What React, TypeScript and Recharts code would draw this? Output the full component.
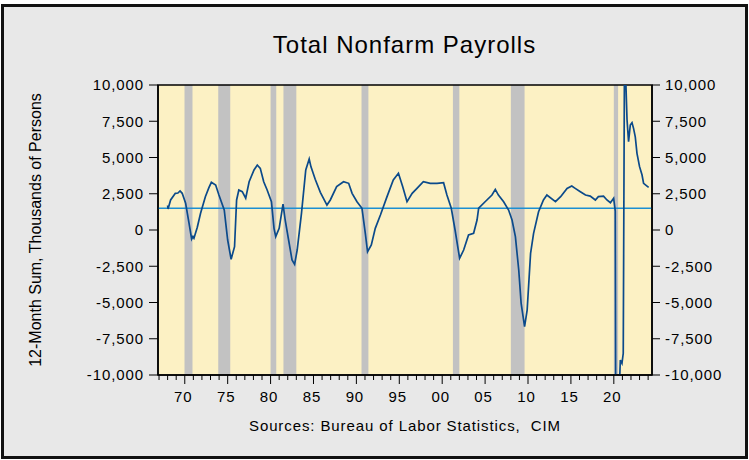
import React from 'react';
import { ComposedChart, Line, XAxis, YAxis, ReferenceArea, ReferenceLine } from 'recharts';

const years = [
  1968.0, 1968.05, 1968.35, 1968.9, 1969.2, 1969.45, 1969.7, 1970.1, 1970.5, 1970.8, 1970.95, 1971.07,
  1971.46, 1971.84, 1972.4, 1972.8, 1973.1, 1973.6, 1973.98, 1974.6, 1975.0, 1975.4, 1975.8, 1976.04,
  1976.3, 1976.7, 1977.1, 1977.5, 1978.07, 1978.45, 1978.8, 1979.2, 1979.6, 1980.1, 1980.4, 1980.6,
  1981.0, 1981.45, 1981.7, 1982.1, 1982.5, 1982.8, 1983.1, 1983.6, 1984.1, 1984.5, 1984.7, 1985.2,
  1985.8, 1986.57, 1986.96, 1987.7, 1988.5, 1989.1, 1989.5, 1990.07, 1990.65, 1991.04, 1991.3, 1991.74,
  1992.2, 1992.8, 1993.57, 1994.3, 1994.9, 1995.4, 1995.9, 1996.5, 1997.06, 1997.8, 1998.6, 1999.4,
  2000.16, 2000.55, 2001.06, 2001.5, 2002.03, 2002.5, 2003.07, 2003.66, 2004.06, 2004.25, 2005.0, 2005.8,
  2006.19, 2006.55, 2007.16, 2007.74, 2008.14, 2008.53, 2008.92, 2009.2, 2009.6, 2009.9, 2010.3, 2010.65,
  2011.23, 2011.8, 2012.2, 2013.2, 2013.8, 2014.55, 2015.1, 2015.5, 2016.1, 2016.7, 2017.25, 2017.85,
  2018.2, 2018.8, 2019.2, 2019.6, 2019.98, 2020.17, 2020.25, 2020.45, 2020.65, 2020.76, 2020.95, 2021.1,
  2021.25, 2021.54, 2021.72, 2021.92, 2022.12, 2022.3, 2022.5, 2022.7, 2023.0, 2023.29, 2023.47, 2023.87,
  2024.06,
];

const payrollChange = [
  1700, 1450, 2070, 2530, 2550, 2690, 2530, 1840, 460, -620, -450, -570,
  190, 1150, 2300, 2900, 3290, 3100, 2410, 1380, -690, -2020, -1150, 2070,
  2760, 2640, 2190, 3330, 4140, 4480, 4250, 3330, 2760, 1950, 115, -460,
  115, 1790, 690, -690, -2070, -2370, -1380, 1150, 4140, 4900, 4370, 3500,
  2600, 1720, 2070, 2990, 3330, 3220, 2530, 1950, 1500, -230, -1500, -1030,
  115, 1030, 2300, 3450, 3910, 2990, 1950, 2530, 2870, 3330, 3220, 3220,
  3260, 2410, 1500, 0, -1950, -1380, -345, -230, 690, 1500, 1950, 2410,
  2800, 2410, 1950, 1380, 690, -460, -2760, -5060, -6670, -5520, -1610, -230,
  1260, 2070, 2410, 1950, 2300, 2870, 3030, 2870, 2640, 2410, 2340, 2070,
  2300, 2340, 2070, 1880, 2190, 1300, -19500, -14000, -10800, -8970, -9200, -8500,
  13000, 7600, 6090, 7240, 7400, 7010, 6430, 5290, 4370, 3790, 3220, 3030,
  2940,
];

const recessionStarts = [1969.97, 1973.9, 1980.0, 1981.5, 1990.6, 2001.25, 2008.0, 2020.0];
const recessionEnds = [1970.9, 1975.3, 1980.66, 1983.0, 1991.4, 2002.0, 2009.6, 2020.5];

const yTicks = [-10000, -7500, -5000, -2500, 0, 2500, 5000, 7500, 10000];
const yearTicks = Array.from({ length: 58 }, (_, i) => 1967 + i);
const xDomain: [number, number] = [1966.88, 2024.45];
const yDomain: [number, number] = [-10000, 10000];
const baseline = 1500;

const data = years.map((t, i) => ({ t, v: payrollChange[i] }));

const FONT = '"Liberation Sans", Arial, sans-serif';

const fmt = (v: number) => v.toLocaleString('en-US');

const XTick = (props: any) => {
  const { x, y, payload } = props;
  const v = payload.value as number;
  const major = v % 5 === 0;
  return (
    <g>
      <line x1={x} x2={x} y1={y} y2={y + (major ? 9 : 5)} stroke="#000" strokeWidth={1} />
      {major && (
        <text x={x - 1.5} y={y + 27} textAnchor="middle" fontFamily={FONT} fontSize={15} letterSpacing={0.9} fill="#000">
          {String(v % 100).padStart(2, '0')}
        </text>
      )}
    </g>
  );
};

export default function App() {
  return (
    <div style={{ position: 'absolute', left: 0, top: 0, width: 749, height: 460, background: '#fff' }}>
      <div
        style={{
          position: 'absolute', left: 1, top: 4, width: 747, height: 455,
          border: '3px solid #111', boxSizing: 'border-box', background: '#E8E8E8',
        }}
      />
      <div
        style={{
          position: 'absolute', left: 157, width: 495, top: 31, textAlign: 'center',
          fontFamily: FONT, fontSize: 24, letterSpacing: 1, color: '#000', lineHeight: '28px',
        }}
      >
        Total Nonfarm Payrolls
      </div>
      <div style={{ position: 'absolute', left: 0, top: 0 }}>
        <ComposedChart width={749} height={460} data={data} margin={{ top: 85, right: 0, bottom: 0, left: 0 }}>
          <XAxis
            dataKey="t" type="number" domain={xDomain} allowDataOverflow ticks={yearTicks} interval={0}
            tick={<XTick />} tickLine={false} tickSize={0} tickMargin={0}
            axisLine={{ stroke: '#000', strokeWidth: 1.5 }} height={85}
            label={{
              value: 'Sources: Bureau of Labor Statistics,\u00A0 CIM', position: 'insideTop', dy: 40,
              style: { fontFamily: FONT, fontSize: 15, letterSpacing: 0.9, fill: '#000' },
            }}
          />
          <YAxis
            yAxisId="left" domain={yDomain} allowDataOverflow ticks={yTicks} interval={0} width={158}
            tickSize={9} tickMargin={5} tickFormatter={fmt}
            tick={{ fontFamily: FONT, fontSize: 15, letterSpacing: 0.9, fill: '#000' }}
            tickLine={{ stroke: '#000' }} axisLine={{ stroke: '#000', strokeWidth: 1.5 }}
            label={{
              value: '12-Month Sum, Thousands of Persons', angle: -90, position: 'insideLeft', dx: 30,
              style: { textAnchor: 'middle', fontFamily: FONT, fontSize: 16, fill: '#000' },
            }}
          />
          <YAxis
            yAxisId="right" orientation="right" domain={yDomain} allowDataOverflow ticks={yTicks} interval={0} width={97}
            tickSize={8} tickMargin={5} tickFormatter={fmt}
            tick={{ fontFamily: FONT, fontSize: 15, letterSpacing: 0.9, fill: '#000', textAnchor: 'start' }}
            tickLine={{ stroke: '#000' }} axisLine={{ stroke: '#000', strokeWidth: 1.5 }}
          />
          <ReferenceArea yAxisId="left" x1={xDomain[0]} x2={xDomain[1]} y1={yDomain[0]} y2={yDomain[1]} fill="#FCF1C4" fillOpacity={1} stroke="none" />
          {recessionStarts.map((s, i) => (
            <ReferenceArea key={i} yAxisId="left" x1={s} x2={recessionEnds[i]} y1={yDomain[0]} y2={yDomain[1]} fill="#C2C2C2" fillOpacity={1} stroke="none" />
          ))}
          <ReferenceLine yAxisId="left" y={baseline} stroke="#1C8FD2" strokeWidth={1.4} />
          <Line yAxisId="left" dataKey="v" type="linear" stroke="#0B4A8B" strokeWidth={1.7} dot={false} isAnimationActive={false} />
          <ReferenceArea yAxisId="left" x1={xDomain[0]} x2={xDomain[1]} y1={yDomain[0]} y2={yDomain[1]} fill="none" stroke="#000" strokeWidth={1.5} />
        </ComposedChart>
      </div>
    </div>
  );
}
